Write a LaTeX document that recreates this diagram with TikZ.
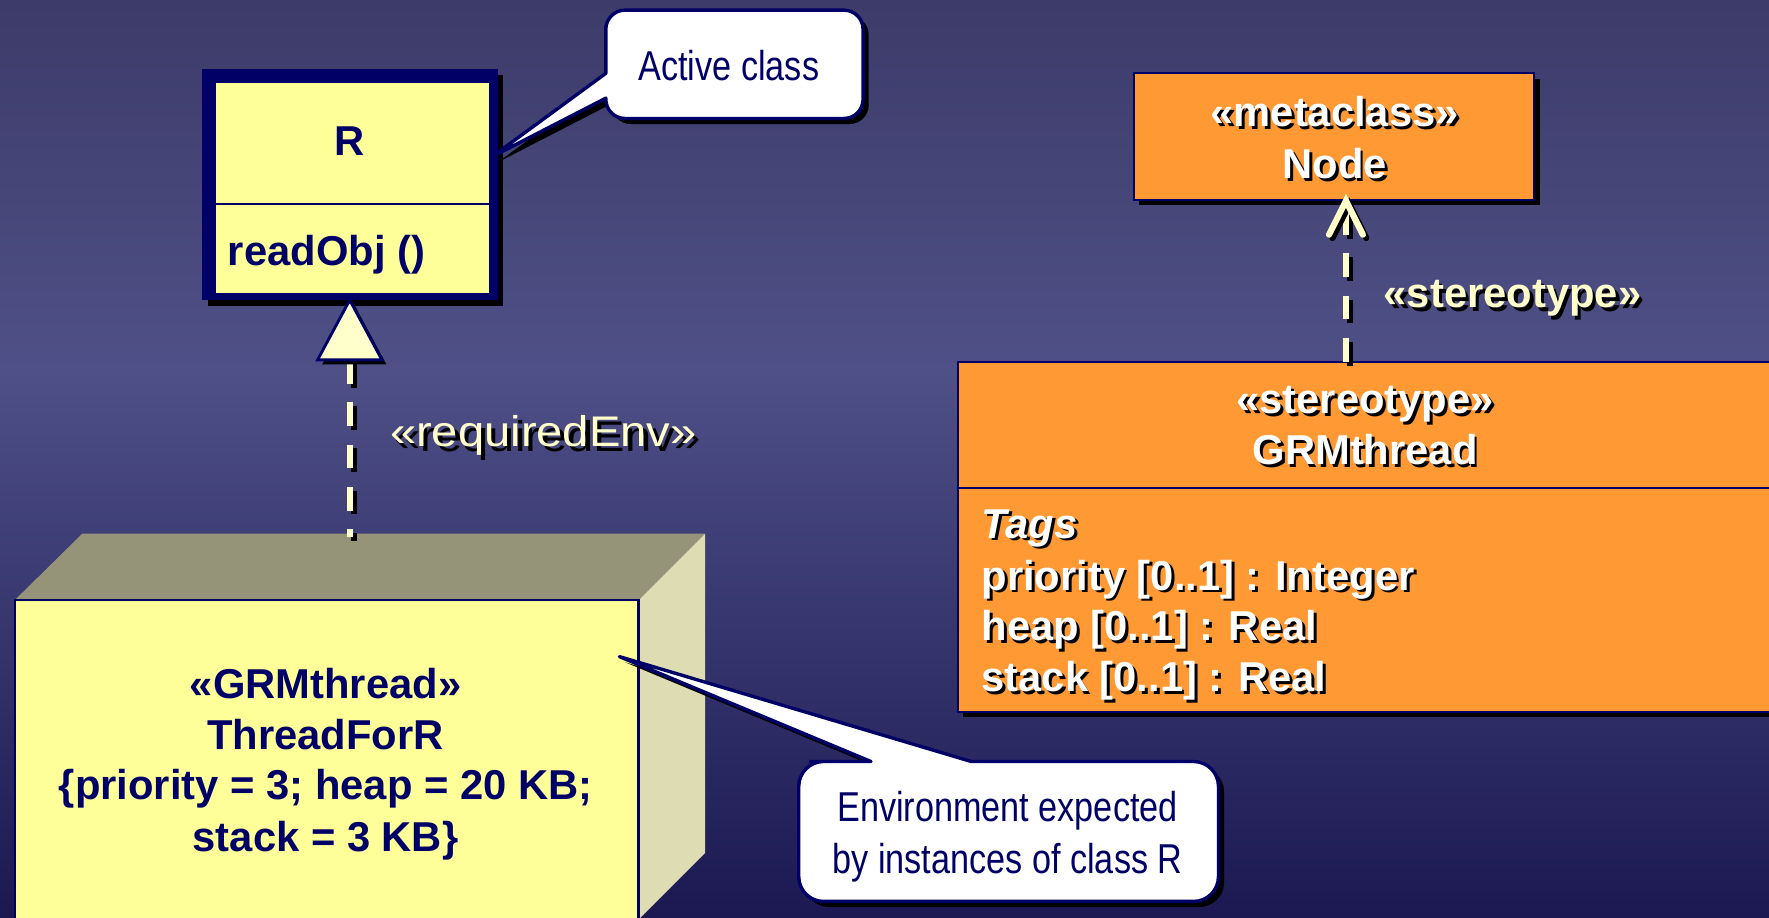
\documentclass[tikz,border=0pt]{standalone}
\usepackage{fontspec}
\setmainfont{Liberation Sans}
\newfontfamily\narrowfont{Liberation Sans}[FakeStretch=0.82]
\newfontfamily\wideregular{Liberation Sans}[FakeStretch=1.1]
\usetikzlibrary{calc}

\definecolor{navy}{HTML}{000066}
\definecolor{classyellow}{HTML}{FFFF99}
\definecolor{paleyellow}{HTML}{FFFFCC}
\definecolor{umlorange}{HTML}{FF9933}
\definecolor{topface}{HTML}{969478}
\definecolor{sideface}{HTML}{DEDCB2}
\definecolor{bgtop}{HTML}{3C3B69}
\definecolor{bgmid}{HTML}{4F5087}
\definecolor{bgbot}{HTML}{1B1852}

\tikzset{
  every node/.style={inner sep=0pt, outer sep=0pt},
  boldfont/.style={font=\fontsize{37}{45}\selectfont\bfseries},
  tagfont/.style={font=\fontsize{37}{45}\selectfont\bfseries\itshape},
  notefont/.style={font=\narrowfont\fontsize{37}{46}\selectfont},
  labelfont/.style={font=\wideregular\fontsize{38}{46}\selectfont},
  dropshadow/.style={preaction={fill=black, transform canvas={xshift=#1, yshift=-#1}}},
  dropshadow/.default=5pt,
  compartment/.style={draw=navy, line width=2pt, fill=classyellow},
  orangebox/.style={draw=navy, line width=2pt, fill=umlorange, dropshadow},
  notebox/.style={fill=white, draw=navy, line width=3pt, line join=round, dropshadow},
  linkline/.style={draw=paleyellow, line width=5.5pt,
    preaction={draw=black, line width=5.5pt, dash pattern=on 21pt off 16.5pt,
      transform canvas={xshift=3.5pt, yshift=-3.5pt}},
    dash pattern=on 21pt off 16.5pt},
  openhead/.style={draw=paleyellow, line width=5.5pt, line cap=round, line join=miter,
    preaction={draw=black, line width=5.5pt, line cap=round,
      transform canvas={xshift=3pt, yshift=-3pt}}},
  hollowtri/.style={fill=paleyellow, draw=navy, line width=2.5pt, line join=miter, dropshadow=4pt},
}

% text with a black drop shadow: name, position, anchor, style, colour, offset, text
\newcommand\castlabel[7]{%
  \node[#4, anchor=#3, text=black] (#1-shade) at ($(#2)+(#6,#6)$) {#7};
  \node[#4, anchor=#3, text=#5] (#1) at (#2) {#7};
}

\begin{document}
\begin{tikzpicture}[x=1pt, y=-1pt]
\useasboundingbox (0,0) rectangle (1568,813);
\clip (0,0) rectangle (1568,813);

% backdrop
\fill[top color=bgtop, bottom color=bgmid] (0,0) rectangle (1568,328);
\fill[top color=bgmid, bottom color=bgbot] (0,327.5) rectangle (1568,813);

% ---------- active class R ----------
\fill[black] (184,66.5) rectangle (446,271);
\fill[navy] (179,61.5) rectangle (441,266);
\node[compartment, minimum width=244.2pt, minimum height=108.6pt] (Rname) at (312.5,126.7) {};
\node[compartment, minimum width=244.2pt, minimum height=79.3pt] (Rops) at (312.5,220.65) {};
\node[boldfont, text=navy, anchor=base] (Rlabel) at (310,137.5) {R};
\node[boldfont, text=navy, anchor=base west] (Rop) at (202,235) {readObj ()};

% ---------- note: Active class ----------
\coordinate (activeTip) at (436,139);
\path[notebox] (537,65) -- (activeTip) -- (537,87) -- (537,87.5)
  [rounded corners=17pt] -- (537,105) -- (765,105) -- (765,9) -- (537,9) -- (537,40)
  [sharp corners] -- (537,41) -- cycle;
\node[notefont, text=navy, anchor=base] (activeText) at (646,71) {Active class};

% ---------- metaclass Node ----------
\node[orangebox, minimum width=355pt, minimum height=112pt] (metaclass) at (1182.5,121) {};
\castlabel{metaKind}{1183,112}{base}{boldfont}{white}{2.5}{«metaclass»}
\castlabel{metaName}{1183,158}{base}{boldfont}{white}{2.5}{Node}

% ---------- stereotype GRMthread ----------
\node[orangebox, minimum width=731pt, minimum height=112.2pt] (grmHead) at (1214.5,376.7) {};
\node[orangebox, minimum width=731pt, minimum height=198pt] (grmBody) at (1214.5,531.8) {};
\castlabel{grmKind}{1210,366.4}{base}{boldfont}{white}{2.5}{«stereotype»}
\castlabel{grmName}{1210,412}{base}{boldfont}{white}{2.5}{GRMthread}
\castlabel{tagHead}{870,477}{base west}{tagfont}{white}{2.5}{Tags}
\castlabel{tagPrio}{870,523}{base west}{boldfont}{white}{2.5}{priority [0..1] : Integer}
\castlabel{tagHeap}{870,568}{base west}{boldfont}{white}{2.5}{heap [0..1] : Real}
\castlabel{tagStack}{870,613}{base west}{boldfont}{white}{2.5}{stack [0..1] : Real}

% stereotype extends metaclass
\coordinate (stTip) at (1193,178);
\coordinate (stTail) at (1193,320.6);
\draw[linkline] (stTail) -- (stTip);
\draw[openhead] ($(stTip)+(-15,30)$) -- (stTip) -- ($(stTip)+(15,30)$);
\castlabel{stLabel}{1226.5,273}{base west}{boldfont}{paleyellow}{3}{«stereotype»}

% ---------- node ThreadForR ----------
\fill[topface] (13,532) -- (73,473) -- (625,473) -- (566,532) -- cycle;
\fill[sideface] (566,532) -- (625,473) -- (625,756) -- (566,815) -- cycle;
\node[compartment, minimum width=553pt, minimum height=300pt] (thread) at (289.5,682) {};
\node[boldfont, text=navy, anchor=base] (threadKind) at (288.6,619) {«GRMthread»};
\node[boldfont, text=navy, anchor=base] (threadName) at (288.6,664.5) {ThreadForR};
\node[boldfont, text=navy, anchor=base] (threadTags1) at (288.6,709) {\{priority = 3; heap = 20 KB;};
\node[boldfont, text=navy, anchor=base] (threadTags2) at (288.6,754.5) {stack = 3 KB\}};

% requiredEnv realization: ThreadForR -> R
\coordinate (reqTip) at (310,266);
\coordinate (reqBase) at (310,319);
\coordinate (envTop) at (310,476);
\draw[linkline] (reqBase) -- (envTop);
\filldraw[hollowtri] (reqTip) -- ($(reqBase)+(-28.5,0)$) -- ($(reqBase)+(28.5,0)$) -- cycle;
\castlabel{reqLabel}{345.7,396}{base west}{labelfont}{paleyellow}{4}{«requiredEnv»}

% ---------- note: environment ----------
\coordinate (envTip) at (549,582);
\path[notebox] (772,675) -- (envTip) -- (861,675) -- (862,675)
  [rounded corners=22pt] -- (1080,675) -- (1080,799) -- (708,799) -- (708,675) -- (740,675)
  [sharp corners] -- (741,675) -- cycle;
\node[notefont, text=navy, anchor=base] (envText1) at (893,728) {Environment expected};
\node[notefont, text=navy, anchor=base] (envText2) at (893,774) {by instances of class R};
\end{tikzpicture}
\end{document}
